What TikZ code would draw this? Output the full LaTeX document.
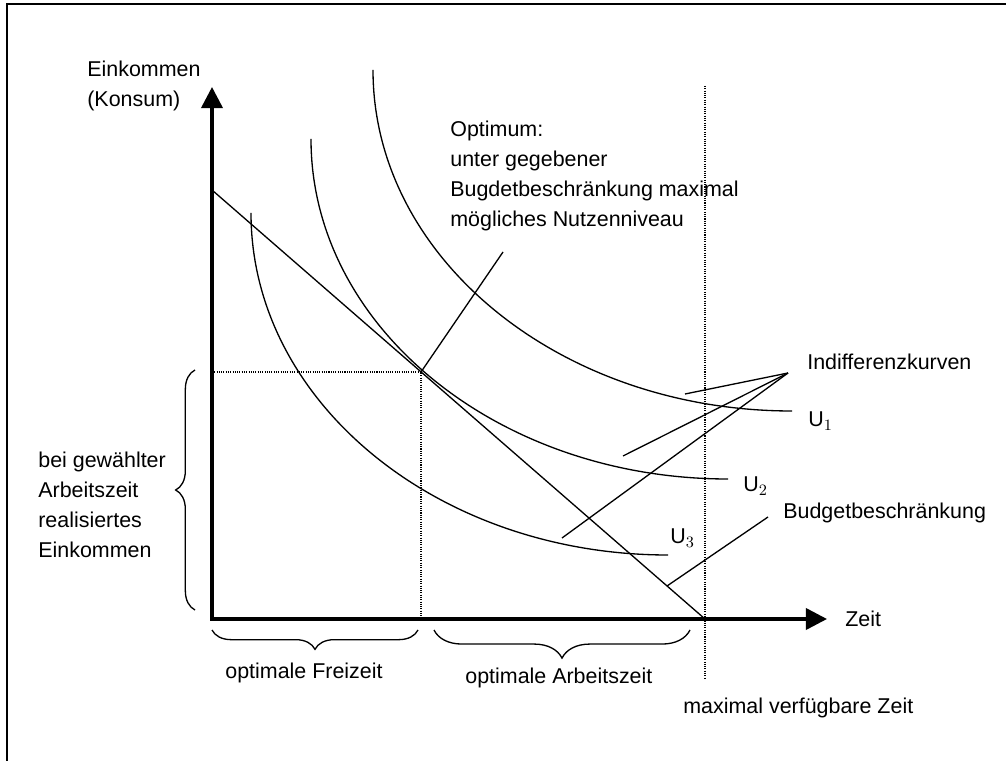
\documentclass[tikz,border=0pt]{standalone}
\usepackage{fontspec}
\setmainfont{Liberation Sans}
\usetikzlibrary{positioning, arrows.meta, decorations.pathreplacing}

\begin{document}
\begin{tikzpicture}[
  x=0.02cm, y=0.02cm,
  txt/.style={anchor=west, inner sep=0pt, align=left, font=\fontsize{12.2}{17}\selectfont},
  lbl/.style={anchor=base west, inner sep=0pt, font=\fontsize{12.2}{17}\selectfont},
  axis/.style={line width=2pt, {Triangle[length=12pt, width=12pt]}-{Triangle[length=12pt, width=12pt]}},
  thinline/.style={line width=0.75pt},
  guide/.style={line width=0.6pt, dash pattern=on 0.6pt off 0.7pt},
  curlybrace/.style={decorate, decoration={brace, amplitude=#1}, line width=0.75pt}
]
\useasboundingbox (-212,-141) rectangle (794,619);

% Frame
\draw[line width=1pt] (-205,-150) -- (-205,615) -- (800,615);

% Axes
\coordinate (O) at (0,0);
\coordinate (ytop) at (0,532);
\coordinate (xend) at (615,0);
\draw[axis] (ytop) -- (O) -- (xend);

% Budget line and optimum
\coordinate (bstart) at (0,429);
\coordinate (bend) at (493,0);
\coordinate (opt) at (209,247);
\draw[thinline] (bstart) -- (bend);
\draw[guide] (opt -| O) -- (opt) -- (opt |- O);

% Maximal available time
\coordinate (tmaxtop) at (493,533);
\coordinate (tmaxbot) at (493,-59);
\draw[guide] (tmaxtop) -- (tmaxbot);

% Indifference curves
\draw[thinline] (39,406) arc[start angle=180, end angle=270, x radius=417, y radius=342];
\draw[thinline] (99,480) arc[start angle=180, end angle=270, x radius=417, y radius=340];
\draw[thinline] (161,549) arc[start angle=180, end angle=270, x radius=419, y radius=341];

% Axis labels
\node[txt] (ylab) at (-125,533) {Einkommen\\(Konsum)};
\node[txt, right=0.36cm of xend] (xlab) {Zeit};

% Optimum annotation
\node[txt] (optlab) at (238,443) {Optimum:\\unter gegebener\\Bugdetbeschränkung maximal\\mögliches Nutzenniveau};
\coordinate (optptr) at (291,367);
\draw[thinline] (opt) -- (optptr);

% Indifference curve labels
\node[txt] (indiff) at (595,257) {Indifferenzkurven};
\coordinate (ihub) at (576,246);
\coordinate (i1) at (473,225);
\coordinate (i2) at (411,163);
\coordinate (i3) at (350,81);
\draw[thinline] (ihub) -- (i1);
\draw[thinline] (ihub) -- (i2);
\draw[thinline] (ihub) -- (i3);
\node[lbl] (u1) at (596,192) {U$_1$};
\node[lbl] (u2) at (531,127) {U$_2$};
\node[lbl] (u3) at (458,75) {U$_3$};

% Budget constraint label
\node[txt] (budget) at (571,106) {Budgetbeschränkung};
\coordinate (bptr) at (556,102);
\coordinate (bhit) at (455,33);
\draw[thinline] (bptr) -- (bhit);

% Braces
\draw[curlybrace=11pt] (-17,9) -- (-17,249);
\draw[curlybrace=11pt] (206,-11) -- (0,-11);
\draw[curlybrace=16pt] (478,-11) -- (222,-11);

% Brace texts
\node[txt] (income) at (-174,114) {bei gewählter\\Arbeitszeit\\realisiertes\\Einkommen};
\node[txt] (freiz) at (13,-54) {optimale Freizeit};
\node[txt] (arbz) at (253,-59) {optimale Arbeitszeit};
\node[txt] (maxz) at (471,-89) {maximal verfügbare Zeit};

\end{tikzpicture}
\end{document}
